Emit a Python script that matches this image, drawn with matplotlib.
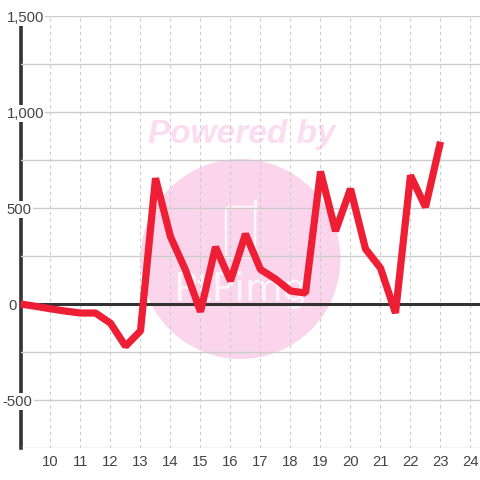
import matplotlib
matplotlib.use("Agg")
import matplotlib.pyplot as plt
from matplotlib.patches import Circle, FancyBboxPatch
from matplotlib.transforms import ScaledTranslation

plt.rcParams['font.family'] = ['Liberation Sans', 'DejaVu Sans']

hours = [9, 9.5, 10, 10.5, 11, 11.5, 12, 12.5, 13, 13.5, 14, 14.5, 15, 15.5, 16, 16.5,
         17, 17.5, 18, 18.5, 19, 19.5, 20, 20.5, 21, 21.5, 22, 22.5, 23]
values = [0, -12, -25, -37, -47, -47, -100, -220, -140, 655, 350, 177, -40, 297, 120, 365,
          180, 130, 68, 57, 690, 380, 600, 287, 187, -47, 670, 505, 845]
x_ticks = list(range(10, 25))
y_ticks = [-750, -500, -250, 0, 250, 500, 750, 1000, 1250, 1500]
y_labels = ['', '-500', '', '0', '', '500', '', '1,000', '', '1,500']

PX = 1 / 100  # inches per pixel
fig = plt.figure(figsize=(4.8, 4.8), dpi=100)
ax = fig.add_axes([20.5 / 480, 32 / 480, 459.5 / 480, 432 / 480])
ax.set_xlim(9, 24.3167)
ax.set_ylim(-750, 1500)
ax.set_facecolor('white')

# watermark, placed in pixels from the top left, kept under the grid
def px(x, y):
    return x / 480, 1 - y / 480

ax.add_patch(Circle((240.5, 480 - 259), 100, transform=None, facecolor='#fbd5ec',
                    edgecolor='none', zorder=0.1, clip_on=False))
ax.text(*px(242, 135), 'Powered by', transform=fig.transFigure, fontsize=24, weight='bold',
        style='italic', color='#fcdcf0', ha='center', va='center', zorder=0.2)
ax.add_patch(FancyBboxPatch((226, 480 - 257), 29, 50, boxstyle='round,pad=0,rounding_size=3',
                            transform=None, facecolor='none', edgecolor='#fef5fb',
                            linewidth=1.8, zorder=0.2, clip_on=False))
ax.add_line(plt.Line2D([255, 255], [480 - 210, 480 - 201], transform=None, color='#fef5fb',
                       linewidth=2.4, solid_capstyle='round', zorder=0.2))
ax.text(*px(240, 290), 'PtPimg', transform=fig.transFigure, family='DejaVu Sans', fontsize=28,
        color='#fef5fb', ha='center', va='center', zorder=0.2)

for side in ['top', 'right', 'bottom']:
    ax.spines[side].set_visible(False)
ax.spines['left'].set_linewidth(2.6)
ax.spines['left'].set_color('#333333')
ax.spines['left'].set_zorder(0.3)

ax.set_axisbelow(True)
ax.set_xticks(x_ticks)
ax.set_yticks(y_ticks)
ax.set_yticklabels(y_labels)
ax.grid(axis='y', color='#cccccc', linewidth=1.0)
ax.grid(axis='x', color='#cccccc', linewidth=0.8, linestyle=(0, (3, 3)))
ax.tick_params(axis='both', length=0, labelsize=10.7, labelcolor='#444444')
ax.tick_params(axis='x', pad=5)
ax.tick_params(axis='y', pad=10)

for lab, txt in zip(ax.get_yticklabels(), y_labels):
    lab.set_ha('left')
    lab.set_bbox(dict(facecolor='white', edgecolor='none', pad=0.8))
    if txt == '':
        lab.set_visible(False)
    if txt == '0':
        lab.set_transform(lab.get_transform() + ScaledTranslation(2 * PX, 0, fig.dpi_scale_trans))
    if txt == '-500':
        lab.set_transform(lab.get_transform() + ScaledTranslation(-4 * PX, 0, fig.dpi_scale_trans))

ax.axhline(0, color='#333333', linewidth=2.2, zorder=1)
line, = ax.plot(hours, values, color='#ee1f35', linewidth=5.2, zorder=3, clip_on=False)
line.set_solid_joinstyle('bevel')
line.set_solid_capstyle('butt')

fig.savefig('out.png', dpi=100)
